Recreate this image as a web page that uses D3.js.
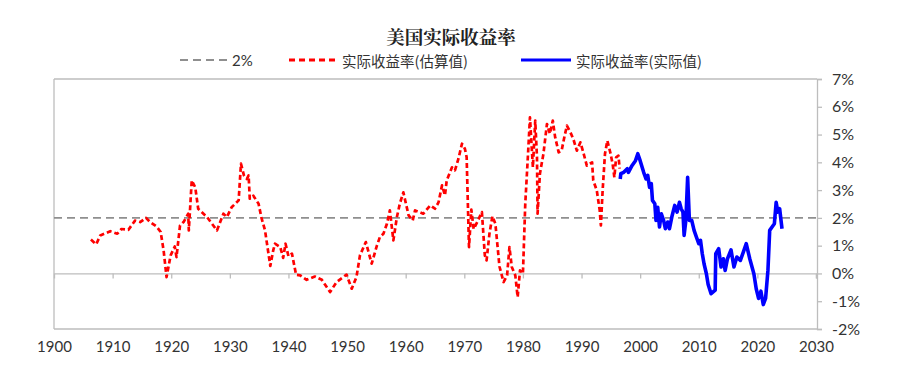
<!DOCTYPE html>
<html>
<head>
<meta charset="utf-8">
<script src="https://cdn.jsdelivr.net/npm/d3@7/dist/d3.min.js"></script>
<style>
  html, body { margin: 0; padding: 0; background: #fff; }
  svg { display: block; }
</style>
</head>
<body>
<svg id="chart" width="900" height="381"></svg>
<script>
// ---- Data ----
const chartTitle = "美国实际收益率";
const legendLabels = ["2%", "实际收益率(估算值)", "实际收益率(实际值)"];
const referenceLevel = 2;
const xTickYears = [1900, 1910, 1920, 1930, 1940, 1950, 1960, 1970, 1980, 1990, 2000, 2010, 2020, 2030];
const yTickValues = [-2, -1, 0, 1, 2, 3, 4, 5, 6, 7];

const estYears = [1906.3,1907.2,1907.9,1909.6,1910.8,1911.5,1912.7,1913.8,1914.7,1915.7,1916.4,1917.5,1918.2,1918.7,1919.2,1919.9,1920.6,1920.9,1921.5,1922.1,1922.9,1923.0,1923.5,1924.1,1924.6,1926.1,1927.8,1928.9,1929.5,1930.3,1931.5,1931.9,1932.4,1932.9,1933.2,1933.4,1934.0,1934.9,1935.4,1936.0,1936.9,1937.4,1937.7,1938.6,1939.1,1939.5,1940.0,1940.6,1941.3,1942.0,1943.1,1944.5,1945.7,1947.1,1948.2,1949.9,1950.8,1951.6,1952.2,1953.2,1954.2,1955.1,1955.6,1956.2,1956.8,1957.3,1957.9,1958.5,1959.0,1959.6,1960.5,1961.2,1961.6,1963.0,1964.2,1965.0,1965.6,1966.2,1966.7,1967.0,1967.9,1968.4,1969.0,1969.6,1970.1,1970.4,1970.8,1971.2,1971.6,1972.2,1973.0,1973.5,1973.8,1974.3,1974.8,1975.3,1976.0,1976.7,1977.3,1977.7,1978.1,1978.7,1979.1,1979.5,1980.0,1980.4,1980.9,1981.2,1981.7,1982.1,1982.4,1982.5,1982.9,1983.5,1984.1,1984.6,1985.1,1985.5,1986.1,1986.6,1987.0,1987.5,1988.1,1988.6,1989.2,1989.8,1990.3,1990.9,1991.8,1992.0,1992.6,1993.1,1993.3,1993.6,1994.0,1994.4,1994.9,1995.3,1995.6,1995.9,1996.3,1996.5];
const estValues = [1.22,1.05,1.37,1.52,1.43,1.60,1.57,1.90,1.85,2.00,1.85,1.69,1.49,0.83,-0.13,0.65,0.97,0.59,1.73,1.85,2.15,1.55,3.35,3.10,2.33,2.03,1.55,2.15,2.03,2.38,2.63,3.95,3.53,3.40,3.53,2.69,2.80,2.51,2.00,1.55,0.27,0.83,1.07,0.95,0.56,1.07,0.62,0.71,-0.05,-0.07,-0.23,-0.11,-0.23,-0.67,-0.31,-0.04,-0.55,-0.13,0.65,1.13,0.35,1.01,1.31,1.43,1.79,2.27,1.19,2.03,2.51,2.92,2.09,1.91,2.27,2.15,2.45,2.33,2.56,3.17,2.81,3.35,3.82,3.71,4.13,4.67,4.49,4.18,0.95,2.30,1.60,1.85,2.21,0.65,0.47,1.45,2.06,1.79,0.25,-0.31,-0.07,0.95,0.23,-0.07,-0.85,0.11,-0.01,2.51,4.42,5.62,3.82,5.50,4.18,2.15,3.59,4.31,5.38,5.03,5.50,4.90,4.36,4.42,4.84,5.32,5.08,4.84,4.42,4.72,4.36,3.88,4.00,3.35,2.99,2.27,1.73,2.99,4.31,4.78,4.36,3.95,3.46,4.18,4.24,3.77];

const actYears = [1996.6,1996.7,1997.2,1997.8,1998.0,1998.6,1999.2,1999.6,2000.0,2000.6,2001.0,2001.3,2001.6,2001.9,2002.1,2002.5,2002.7,2003.0,2003.3,2003.6,2004.0,2004.3,2004.7,2005.0,2005.4,2005.9,2006.3,2006.7,2007.0,2007.3,2007.5,2007.8,2008.1,2008.4,2008.8,2009.2,2009.6,2010.0,2010.3,2010.6,2010.9,2011.3,2011.6,2012.1,2012.8,2012.9,2013.4,2013.8,2014.2,2014.5,2014.9,2015.5,2016.0,2016.5,2017.1,2017.6,2018.1,2018.7,2019.4,2019.8,2020.2,2020.6,2021.0,2021.4,2021.8,2022.1,2022.5,2022.9,2023.2,2023.5,2023.8,2024.1,2024.2];
const actValues = [3.40,3.59,3.64,3.77,3.64,3.88,4.06,4.31,4.06,3.64,3.40,3.53,3.10,3.23,2.63,2.51,1.91,2.38,1.67,2.15,1.91,1.61,1.85,1.61,2.03,2.45,2.21,2.56,2.33,2.21,1.37,1.91,3.46,1.91,1.91,1.55,1.31,1.07,1.19,0.71,0.35,-0.01,-0.40,-0.73,-0.60,0.71,0.89,0.23,0.53,0.11,0.53,0.85,0.23,0.59,0.47,0.77,1.07,0.53,-0.01,-0.55,-0.90,-0.64,-1.12,-0.90,0.11,1.55,1.67,1.79,2.56,2.21,2.33,1.79,1.61];

// ---- Layout ----
const svg = d3.select("#chart");
const plot = { left: 54, right: 817, top: 79, bottom: 329 };
const x = d3.scaleLinear().domain([1900, 2030]).range([plot.left, plot.right - 1]);
const y = d3.scaleLinear().domain([-2, 7]).range([plot.bottom, plot.top]);

const gridColor = "#bdbdbd";
const textColor = "#333";
const numFont = "Lato, 'Open Sans', sans-serif";
const cjkFont = "'Noto Sans CJK SC', sans-serif";

// Title
svg.append("text")
  .attr("x", 451).attr("y", 36)
  .attr("text-anchor", "middle").attr("dominant-baseline", "central")
  .style("font-family", "'Noto Serif CJK SC', 'Noto Sans CJK SC', serif")
  .style("font-size", "18.5px").style("font-weight", "700").style("fill", "#222")
  .text(chartTitle);

// Plot frame: top, left, bottom
svg.append("line").attr("x1", plot.left).attr("x2", plot.right).attr("y1", plot.top).attr("y2", plot.top)
  .attr("stroke", gridColor).attr("stroke-width", 1.3);
svg.append("line").attr("x1", plot.left).attr("x2", plot.left).attr("y1", plot.top).attr("y2", plot.bottom)
  .attr("stroke", gridColor).attr("stroke-width", 1.3);
svg.append("line").attr("x1", plot.left).attr("x2", plot.right).attr("y1", plot.bottom).attr("y2", plot.bottom)
  .attr("stroke", gridColor).attr("stroke-width", 1.3);

// Right axis
const yAxis = d3.axisRight(y).tickValues(yTickValues).tickSize(5).tickPadding(10)
  .tickFormat(d => d + "%");
const gy = svg.append("g").attr("transform", `translate(${plot.right},0)`).call(yAxis);
gy.select(".domain").attr("stroke", gridColor).attr("stroke-width", 1.3);
gy.selectAll(".tick line").attr("stroke", gridColor).attr("stroke-width", 1.3);
gy.selectAll(".tick text").style("font-family", numFont).style("font-size", "16px").style("fill", textColor);

// Zero line with decade ticks below
const zeroAxis = d3.axisBottom(x).tickValues(xTickYears).tickSize(5).tickFormat("");
const gz = svg.append("g").attr("transform", `translate(0,${y(0)})`).call(zeroAxis);
gz.select(".domain").attr("stroke", gridColor).attr("stroke-width", 1.3);
gz.selectAll(".tick line").attr("stroke", gridColor).attr("stroke-width", 1.3);
gz.selectAll(".tick").filter(d => d === 1900).remove();

// Bottom year labels
const xAxis = d3.axisBottom(x).tickValues(xTickYears).tickSize(0).tickPadding(12).tickFormat(d3.format("d"));
const gx = svg.append("g").attr("transform", `translate(0,${plot.bottom})`).call(xAxis);
gx.select(".domain").remove();
gx.selectAll(".tick text").style("font-family", numFont).style("font-size", "15px").style("fill", textColor);

// 2% reference line
svg.append("line")
  .attr("x1", plot.left).attr("x2", plot.right)
  .attr("y1", y(referenceLevel)).attr("y2", y(referenceLevel))
  .attr("stroke", "#8f8f8f").attr("stroke-width", 1.6).attr("stroke-dasharray", "8,5");

// Series lines
const line = d3.line().x(d => x(d[0])).y(d => y(d[1]));
const estData = estYears.map((yr, i) => [yr, estValues[i]]);
const actData = actYears.map((yr, i) => [yr, actValues[i]]);

svg.append("path").datum(estData).attr("d", line)
  .attr("fill", "none").attr("stroke", "#ff0000").attr("stroke-width", 2.7)
  .attr("stroke-dasharray", "5,3").attr("stroke-linejoin", "round");

svg.append("path").datum(actData).attr("d", line)
  .attr("fill", "none").attr("stroke", "#0000ff").attr("stroke-width", 3.6)
  .attr("stroke-linejoin", "round");

// Legend
const legendY = 60;
const legendItems = [
  { x1: 180, x2: 229, tx: 232, color: "#8f8f8f", dash: "8,5", width: 2 },
  { x1: 289, x2: 337, tx: 342, color: "#ff0000", dash: "6,4", width: 3 },
  { x1: 521, x2: 571, tx: 576, color: "#0000ff", dash: null, width: 3 }
];
const lg = svg.append("g");
legendItems.forEach((it, i) => {
  lg.append("line").attr("x1", it.x1).attr("x2", it.x2).attr("y1", legendY).attr("y2", legendY)
    .attr("stroke", it.color).attr("stroke-width", it.width)
    .attr("stroke-dasharray", it.dash);
  lg.append("text").attr("x", it.tx).attr("y", legendY).attr("dominant-baseline", "central")
    .style("font-family", i === 0 ? numFont : cjkFont)
    .style("font-size", i === 0 ? "15px" : "14.5px").style("fill", textColor)
    .text(legendLabels[i]);
});
</script>
</body>
</html>
